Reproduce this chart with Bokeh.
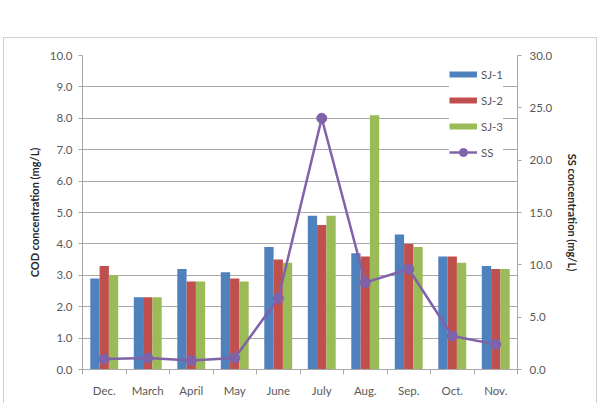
import numpy as np
from bokeh.plotting import figure
from bokeh.models import (Range1d, LinearAxis, FixedTicker, NumeralTickFormatter,
                          Legend, LegendItem, ColumnDataSource, InlineStyleSheet)
from bokeh.embed import file_html
from bokeh.resources import INLINE

months = ["Dec.", "March", "April", "May", "June", "July", "Aug.", "Sep.", "Oct.", "Nov."]
sj1 = [2.9, 2.3, 3.2, 3.1, 3.9, 4.9, 3.7, 4.3, 3.6, 3.3]
sj2 = [3.3, 2.3, 2.8, 2.9, 3.5, 4.6, 3.6, 4.0, 3.6, 3.2]
sj3 = [3.0, 2.3, 2.8, 2.8, 3.4, 4.9, 8.1, 3.9, 3.4, 3.2]
ss = [1.0, 1.1, 0.85, 1.1, 6.8, 24.0, 8.3, 9.6, 3.2, 2.4]
cod_ticks = [0, 1, 2, 3, 4, 5, 6, 7, 8, 9, 10]
ss_ticks = [0, 5, 10, 15, 20, 25, 30]

FONT = "Lato"
C1, C2, C3, C4 = "#4F81BD", "#C0504D", "#9BBB59", "#7F62A8"
GRID = "#a8a8a8"
TXT = "#595959"

n = len(months)
xc = np.arange(n) + 0.5
bw = 0.214

css = InlineStyleSheet(css=""":host { position: relative; }
:host::after { content: ''; position: absolute; left: 3px; top: 37px; width: 594px; height: 400px;
  border: 1.5px solid #d0d0d0; pointer-events: none; box-sizing: border-box; }""")

p = figure(width=605, height=403, output_backend="svg", toolbar_location=None,
           x_range=Range1d(0, n), y_range=Range1d(cod_ticks[0], cod_ticks[-1]),
           min_border_left=82, min_border_right=88, min_border_top=55, min_border_bottom=34,
           stylesheets=[css])
p.extra_y_ranges = {"ss": Range1d(ss_ticks[0], ss_ticks[-1])}
p.outline_line_color = None
p.background_fill_color = "white"
p.border_fill_color = "white"
p.xgrid.grid_line_color = None
p.ygrid.grid_line_color = GRID
p.ygrid.grid_line_width = 1

src = ColumnDataSource(dict(x=xc, sj1=sj1, sj2=sj2, sj3=sj3, ss=ss))
r1 = p.vbar(x=xc - bw, top=sj1, width=bw, fill_color=C1, line_color=None)
r2 = p.vbar(x=xc, top=sj2, width=bw, fill_color=C2, line_color=None)
r3 = p.vbar(x=xc + bw, top=sj3, width=bw, fill_color=C3, line_color=None)
rl = p.line(x="x", y="ss", source=src, line_color=C4, line_width=2.5, y_range_name="ss")
rs = p.scatter(x="x", y="ss", source=src, size=10, fill_color=C4, line_color=C4, y_range_name="ss")

# legend proxies (thick lines look like Excel bar swatches)
nan = [float("nan")]
l1 = p.line(x=nan, y=nan, line_color=C1, line_width=6)
l2 = p.line(x=nan, y=nan, line_color=C2, line_width=6)
l3 = p.line(x=nan, y=nan, line_color=C3, line_width=6)

# x axis
xa = p.xaxis[0]
xa.ticker = FixedTicker(ticks=list(xc), minor_ticks=list(range(n + 1)))
xa.major_label_overrides = {float(x): m for x, m in zip(xc, months)}
xa.major_tick_line_color = None
xa.minor_tick_line_color = GRID
xa.minor_tick_in = 0
xa.minor_tick_out = 5
xa.axis_line_color = GRID
xa.major_label_text_font = FONT
xa.major_label_text_font_size = "11.5px"
xa.major_label_text_color = TXT
xa.major_label_standoff = 8

def style_y(ax):
    ax.formatter = NumeralTickFormatter(format="0.0")
    ax.axis_line_color = GRID
    ax.major_tick_line_color = GRID
    ax.major_tick_in = 0
    ax.major_tick_out = 4
    ax.minor_tick_line_color = None
    ax.major_label_text_font = FONT
    ax.major_label_text_font_size = "11.5px"
    ax.major_label_text_color = TXT
    ax.axis_label_text_font = FONT
    ax.axis_label_text_font_style = "bold"
    ax.axis_label_text_font_size = "11px"
    ax.axis_label_text_color = "#262626"

# left axis
ya = p.yaxis[0]
ya.ticker = FixedTicker(ticks=cod_ticks, minor_ticks=[])
style_y(ya)
ya.major_label_standoff = 6
ya.axis_label = "COD concentration (mg/L)"
ya.axis_label_standoff = 6

# right axis
ra = LinearAxis(y_range_name="ss", ticker=FixedTicker(ticks=ss_ticks, minor_ticks=[]))
style_y(ra)
ra.major_label_standoff = 8
ra.axis_label = "SS concentration (mg/L)"
ra.axis_label_standoff = 11
p.add_layout(ra, "right")

legend = Legend(items=[LegendItem(label="SJ-1", renderers=[l1]),
                       LegendItem(label="SJ-2", renderers=[l2]),
                       LegendItem(label="SJ-3", renderers=[l3]),
                       LegendItem(label="SS", renderers=[rl, rs])],
                location=(367, 207), glyph_width=28, glyph_height=20, label_height=20,
                spacing=6, padding=4, margin=0, label_standoff=4,
                label_text_font=FONT, label_text_font_size="11.5px", label_text_color=TXT,
                border_line_color=None, background_fill_color="white", background_fill_alpha=1)
p.add_layout(legend, "center")

open("out.html", "w").write(file_html(p, INLINE))
